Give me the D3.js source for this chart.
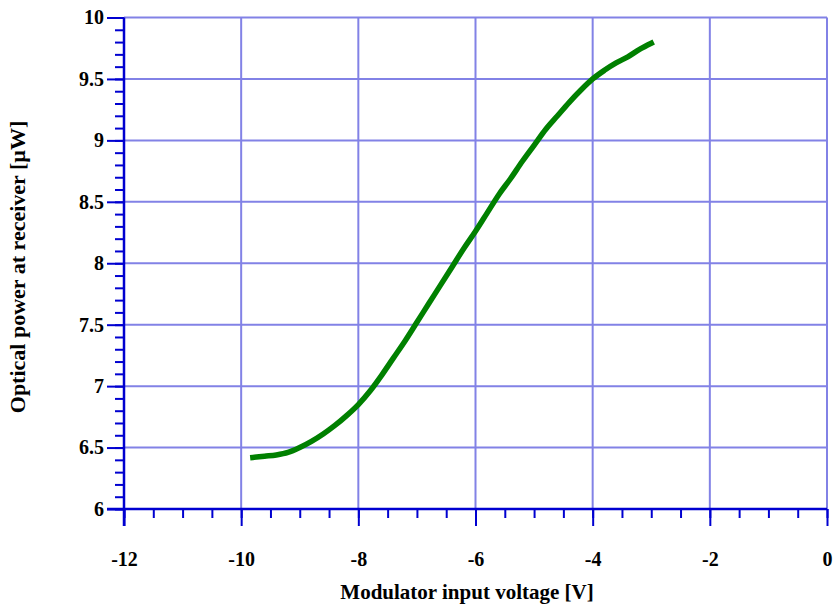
<!DOCTYPE html>
<html>
<head>
<meta charset="utf-8">
<script src="https://cdn.jsdelivr.net/npm/d3@7"></script>
<style>
  body { margin: 0; background: #fff; }
  text { font-family: "Liberation Serif", "Times New Roman", serif; font-weight: bold; }
</style>
</head>
<body>
<script>
// voltage [V] vs optical power [uW]
var voltage = [-9.8, -9.6, -9.4, -9.2, -9.0, -8.8, -8.6, -8.4, -8.2, -8.0,
  -7.8, -7.6, -7.4, -7.2, -7.0, -6.8, -6.6, -6.4, -6.2, -6.0,
  -5.8, -5.6, -5.4, -5.2, -5.0, -4.8, -4.6, -4.4, -4.2, -4.0,
  -3.8, -3.6, -3.4, -3.2, -3.0];
var power = [6.42, 6.43, 6.44, 6.46, 6.50, 6.55, 6.61, 6.68, 6.76, 6.85,
  6.96, 7.09, 7.23, 7.37, 7.52, 7.67, 7.82, 7.97, 8.12, 8.26,
  8.41, 8.56, 8.69, 8.83, 8.96, 9.09, 9.20, 9.31, 9.41, 9.50,
  9.57, 9.63, 9.68, 9.74, 9.79];

var xTicks = [-12, -10, -8, -6, -4, -2, 0];
var yTicks = [6, 6.5, 7, 7.5, 8, 8.5, 9, 9.5, 10];
var xMinor = d3.range(-12, 0.01, 0.5);
var yMinor = d3.range(6, 10.01, 0.1);

var width = 834, height = 610;
var x = d3.scaleLinear().domain([-12, 0]).range([124, 827]);
var y = d3.scaleLinear().domain([6, 10]).range([509, 17.5]);

var svg = d3.select("body").append("svg")
    .attr("width", width)
    .attr("height", height);

var axisColor = "#0000d0", gridColor = "#8282e6";

// grid
svg.append("g").selectAll("line")
    .data(xTicks.slice(1))
  .enter().append("line")
    .attr("x1", function(d) { return x(d); })
    .attr("x2", function(d) { return x(d); })
    .attr("y1", y(10)).attr("y2", y(6))
    .style("stroke", gridColor).style("stroke-width", 2);
svg.append("g").selectAll("line")
    .data(yTicks.slice(1))
  .enter().append("line")
    .attr("x1", x(-12)).attr("x2", x(0))
    .attr("y1", function(d) { return y(d); })
    .attr("y2", function(d) { return y(d); })
    .style("stroke", gridColor).style("stroke-width", 2);

// axes: minor ticks, then major with labels
var gxMinor = svg.append("g")
    .attr("transform", "translate(0," + y(6) + ")")
    .call(d3.axisBottom(x).tickValues(xMinor).tickSize(9).tickFormat(""));
var gx = svg.append("g")
    .attr("transform", "translate(0," + y(6) + ")")
    .call(d3.axisBottom(x).tickValues(xTicks).tickSize(17).tickPadding(26)
      .tickFormat(function(d) { return d; }));
var gyMinor = svg.append("g")
    .attr("transform", "translate(" + x(-12) + ",0)")
    .call(d3.axisLeft(y).tickValues(yMinor).tickSize(9).tickFormat(""));
var gy = svg.append("g")
    .attr("transform", "translate(" + x(-12) + ",0)")
    .call(d3.axisLeft(y).tickValues(yTicks).tickSize(17).tickPadding(3)
      .tickFormat(function(d) { return d; }));

[gxMinor, gx, gyMinor, gy].forEach(function(g) {
  g.selectAll(".domain").remove();
  g.selectAll("line").style("stroke", axisColor).style("stroke-width", 2);
  g.selectAll("text").style("fill", "#000").style("font-size", "20px")
    .style("font-family", "'Liberation Serif', serif").style("font-weight", "bold");
});

// axis lines
svg.append("line")
    .attr("x1", x(-12) - 17).attr("x2", x(0))
    .attr("y1", y(6)).attr("y2", y(6))
    .style("stroke", axisColor).style("stroke-width", 2.5);
svg.append("line")
    .attr("x1", x(-12)).attr("x2", x(-12))
    .attr("y1", y(10)).attr("y2", y(6) + 17)
    .style("stroke", axisColor).style("stroke-width", 2.5);

// data
var pts = voltage.map(function(v, i) { return [v, power[i]]; });
var line = d3.line()
    .curve(d3.curveMonotoneX)
    .x(function(d) { return x(d[0]); })
    .y(function(d) { return y(d[1]); });
svg.append("path")
    .datum(pts)
    .attr("d", line)
    .style("fill", "none")
    .style("stroke", "#008000")
    .style("stroke-width", 5.5)
    .style("stroke-linecap", "square");

// titles
svg.append("text")
    .attr("x", 467).attr("y", 599)
    .attr("text-anchor", "middle")
    .style("font-size", "21px")
    .text("Modulator input voltage [V]");
svg.append("text")
    .attr("transform", "translate(25,267) rotate(-90)")
    .attr("text-anchor", "middle")
    .style("font-size", "22px")
    .text("Optical power at receiver [\u00b5W]");
</script>
</body>
</html>
